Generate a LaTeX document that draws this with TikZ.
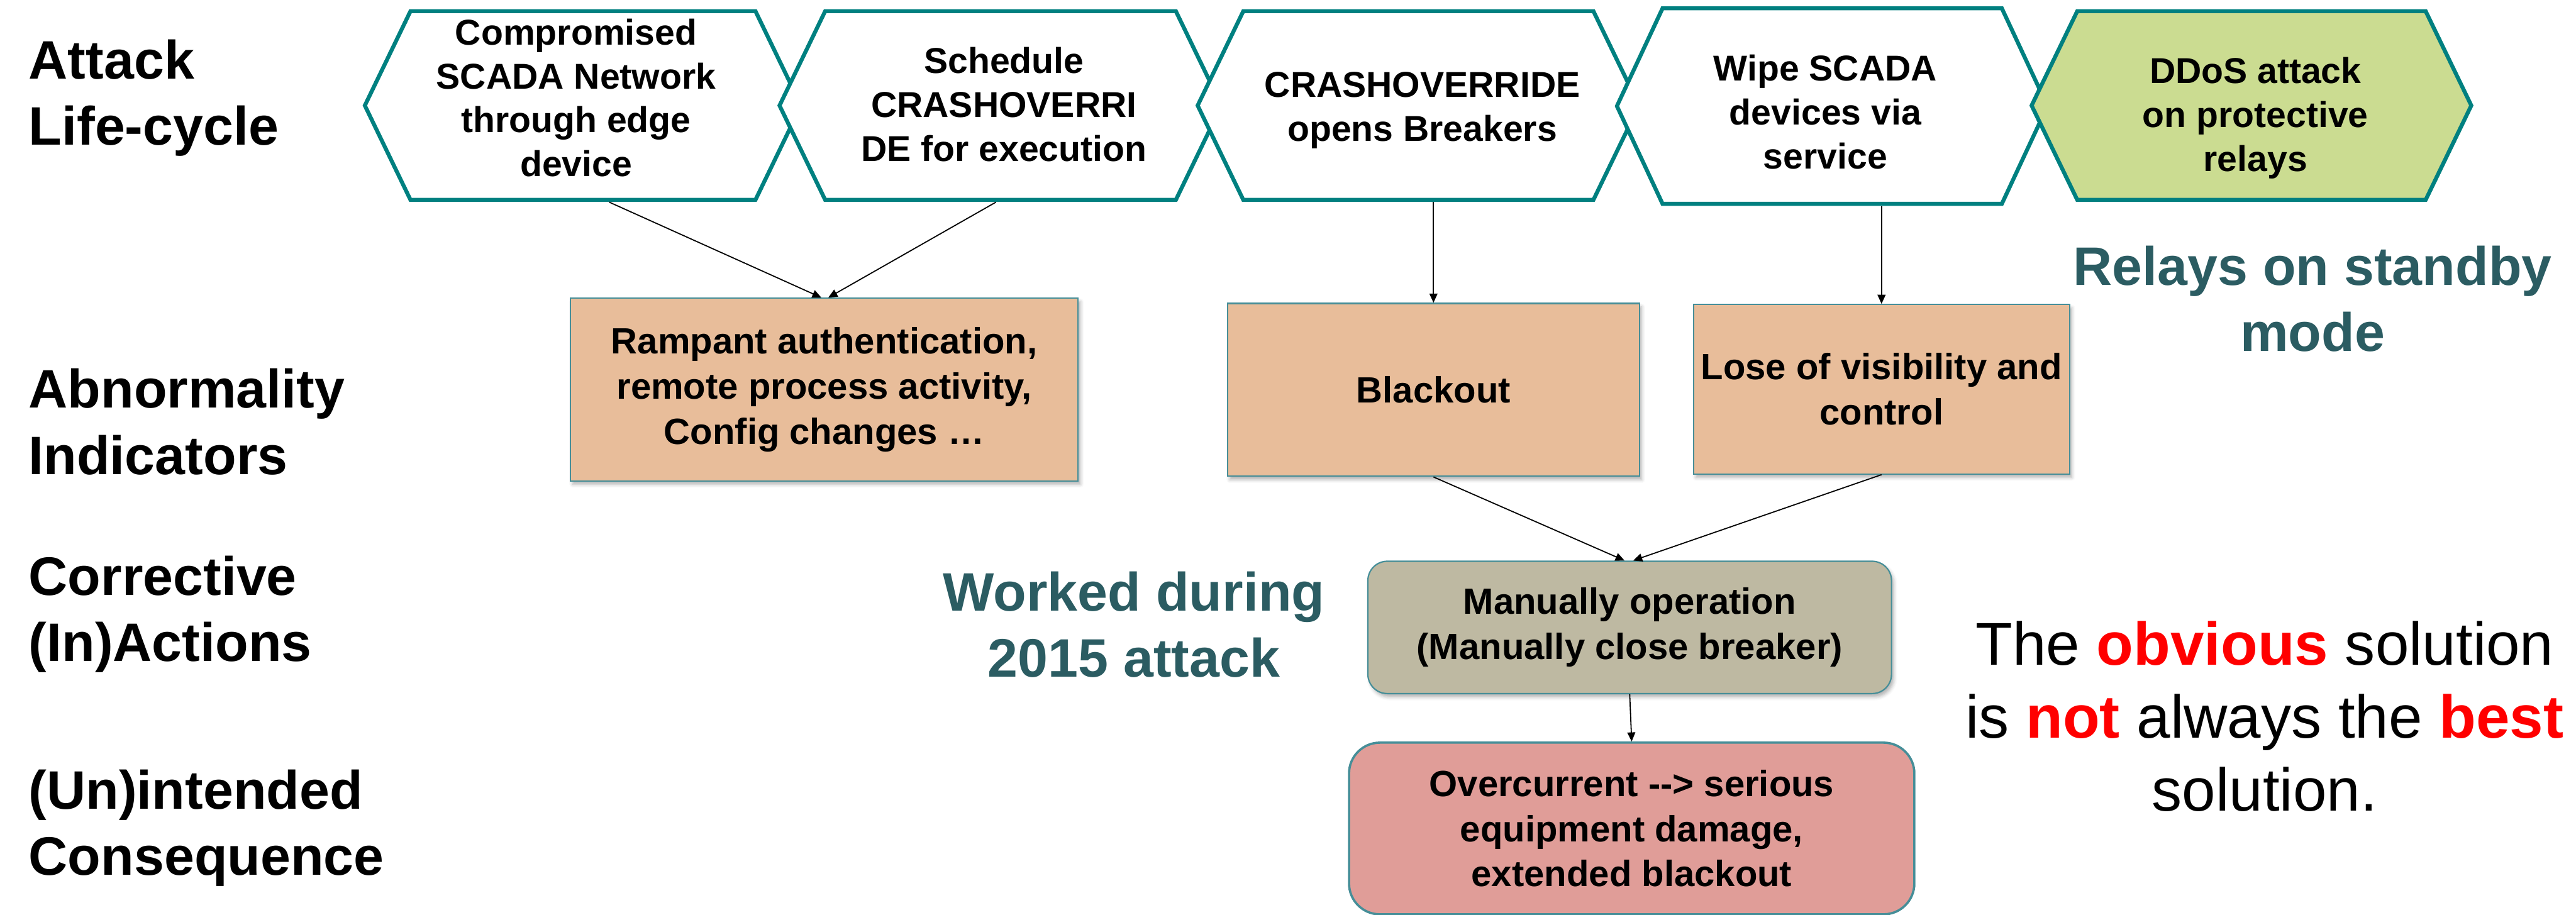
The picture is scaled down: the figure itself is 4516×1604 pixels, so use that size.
\documentclass[tikz,border=0pt]{standalone}
\usepackage{fontspec}
\setmainfont{Liberation Sans}
\usetikzlibrary{calc,arrows.meta,shadows.blur}

\definecolor{hexteal}{RGB}{0,128,128}
\definecolor{relaygreen}{RGB}{203,220,145}
\definecolor{peach}{RGB}{232,189,154}
\definecolor{boxedge}{RGB}{70,142,152}
\definecolor{khaki}{RGB}{190,185,162}
\definecolor{rose}{RGB}{224,157,152}
\definecolor{darkteal}{RGB}{43,92,98}

% #1 name, #2 centre x, #3 half length of the flat edge, #4 top y, #5 bottom y, #6 fill
\newcommand\lifehex[6]{%
  \node[hexframe, minimum width={(#3+80)*1pt}, minimum height={(#5-#4)*0.5pt}]
    (#1) at (#2,{(#4+#5)/2}) {};
  \filldraw[hexline, fill=#6]
    ($(#1.north west)+(80,0)$) -- ($(#1.north east)+(-80,0)$) -- (#1.east)
    -- ($(#1.south east)+(-80,0)$) -- ($(#1.south west)+(80,0)$) -- (#1.west) -- cycle;
}

\begin{document}
\begin{tikzpicture}[x=0.5pt,y=-0.5pt,
  hexframe/.style={rectangle, draw=none, inner sep=0pt},
  hexline/.style={draw=hexteal, line width=3.5pt, line join=miter},
  hextext/.style={inner sep=0pt, align=center, font=\bfseries\fontsize{31.5}{38.5}\selectfont},
  rowlabel/.style={inner sep=0pt, anchor=west, align=left, font=\bfseries\fontsize{47.5}{58}\selectfont},
  note/.style={inner sep=0pt, align=center, text=darkteal, font=\bfseries\fontsize{47.5}{58}\selectfont},
  boxtext/.style={inner sep=0pt, align=center, font=\bfseries\fontsize{32}{39.5}\selectfont},
  indicator/.style={boxtext, rectangle, fill=peach, draw=boxedge, line width=1.2pt,
    blur shadow={shadow xshift=2pt, shadow yshift=-3pt, shadow blur radius=3pt, shadow opacity=30}},
  action/.style={boxtext, rectangle, rounded corners=17pt, fill=khaki, draw=boxedge, line width=1.2pt,
    blur shadow={shadow xshift=2pt, shadow yshift=-3pt, shadow blur radius=3pt, shadow opacity=30}},
  outcome/.style={boxtext, rectangle, rounded corners=27pt, fill=rose, draw=boxedge, line width=2pt},
  conn/.style={draw=black, line width=1pt, -{Triangle[length=8pt,width=7pt]}}]

\useasboundingbox (0,0) rectangle (4516,1604);

% row labels
\node[rowlabel] (l1) at (50,172)    {Attack\\Life-cycle};
\node[rowlabel] (l2) at (50,739.5)  {Abnormality\\Indicators};
\node[rowlabel] (l3) at (50,1076.5) {Corrective\\(In)Actions};
\node[rowlabel] (l4) at (50,1452)   {(Un)intended\\Consequence};

% attack life-cycle stages
\lifehex{h1}{1022}{302}{20}{350}{white}
\lifehex{h2}{1754}{307}{20}{350}{white}
\lifehex{h3}{2486.5}{306.5}{20}{350}{white}
\lifehex{h4}{3212}{297}{15}{357}{white}
\lifehex{h5}{3947}{305}{20}{350}{relaygreen}

\node[hextext] (t1) at ($(h1.center)+(-12,-13.5)$) {Compromised\\SCADA Network\\through edge\\device};
\node[hextext] (t2) at ($(h2.center)+(6,-2)$)      {Schedule\\CRASHOVERRI\\DE for execution};
\node[hextext] (t3) at ($(h3.center)+(7,8.5)$)     {CRASHOVERRIDE\\opens Breakers};
\node[hextext] (t4) at ($(h4.center)+(-12,10.5)$)  {Wipe SCADA\\devices via\\service};
\node[hextext] (t5) at ($(h5.center)+(7,22)$)      {DDoS attack\\on protective\\relays};

% abnormality indicators
\node[indicator, minimum width=445pt, minimum height=160pt] (b1) at (1445,683)
  {Rampant authentication,\\remote process activity,\\Config changes …};
\node[indicator, minimum width=361pt, minimum height=151.5pt] (b2) at (2513,683.5) {Blackout};
\node[indicator, minimum width=329.5pt, minimum height=148.5pt] (b3) at (3298.5,682.5)
  {Lose of visibility and\\control};

% corrective action and its consequence
\node[action, minimum width=459pt, minimum height=116pt] (m) at (2857,1100)
  {Manually operation\\(Manually close breaker)};
\node[outcome, minimum width=495.5pt, minimum height=150.5pt] (o) at (2860.5,1452.5)
  {Overcurrent -{}-{}> serious\\equipment damage,\\extended blackout};

% side notes
\node[note] (n1) at (4054,523.5) {Relays on standby\\mode};
\node[note] (n2) at (1988,1095) {Worked during\\2015 attack};
\node[inner sep=0pt, align=center, font=\fontsize{53}{64}\selectfont] (n3) at (3970,1256)
  {The \textcolor{red}{\bfseries obvious} solution\\is \textcolor{red}{\bfseries not} always the \textcolor{red}{\bfseries best}\\solution.};

% connectors
\draw[conn] ($(h1.south)+(46,4)$) -- ($(b1.north)+(-5,0)$);
\draw[conn] ($(h2.south)+(-8,4)$) -- ($(b1.north)+(7,0)$);
\draw[conn] ($(b2.north |- h3.south)+(0,4)$) -- (b2.north);
\draw[conn] ($(b3.north |- h4.south)+(0,4)$) -- (b3.north);
\draw[conn] (b2.south) -- ($(m.north)+(-9,0)$);
\draw[conn] (b3.south) -- ($(m.north)+(6,0)$);
\draw[conn] (m.south) -- (o.north);
\end{tikzpicture}
\end{document}
